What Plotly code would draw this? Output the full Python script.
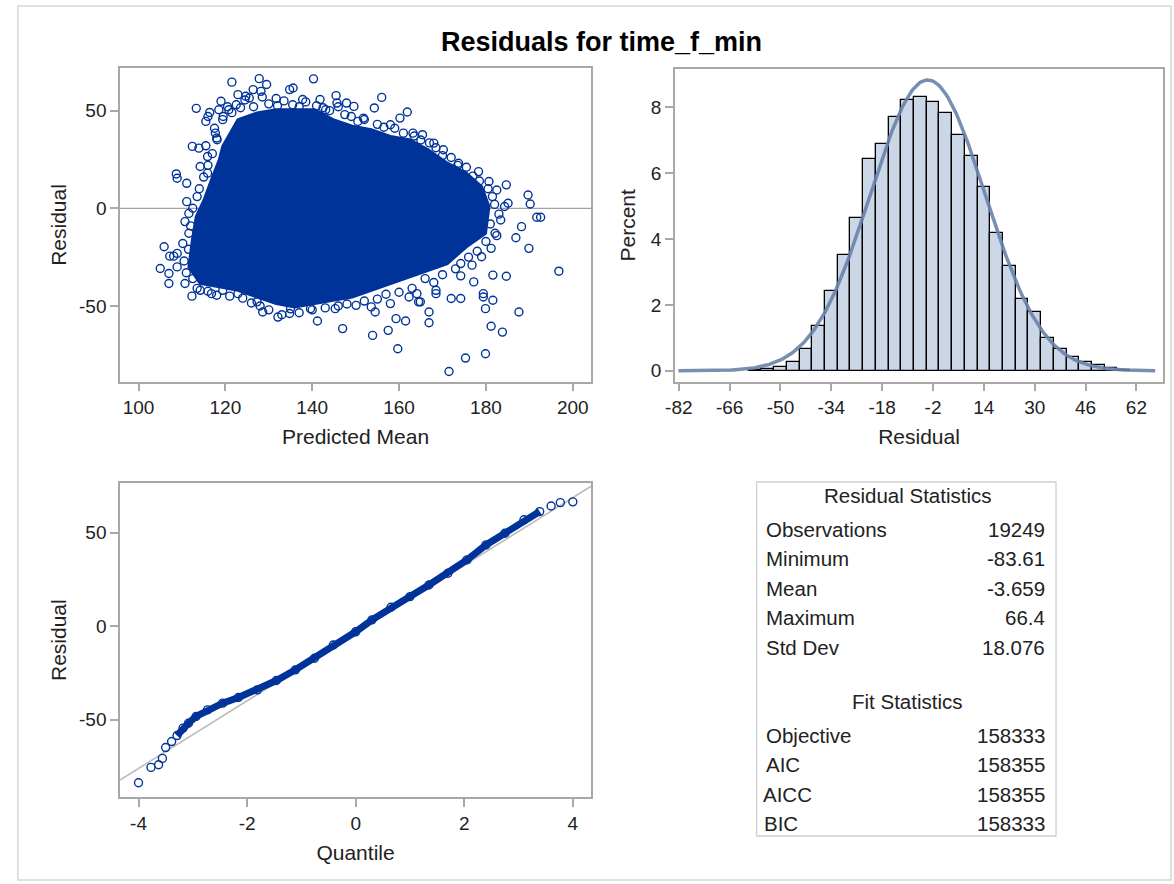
import numpy as np
import plotly.graph_objects as go

W, H = 1174, 884

# ---------------- data ----------------
# Scatter (Predicted Mean vs Residual): outline of the dense point cloud
CORE_X = [118.6, 119.4, 122.9, 127.3, 131.7, 136.0, 140.5, 144.8, 149.2, 153.6, 158.0, 162.3,
          166.7, 171.1, 175.5, 179.0, 180.7, 179.9, 175.5, 171.1, 166.7, 162.3, 158.0, 153.6,
          149.2, 144.8, 140.5, 136.0, 131.7, 127.3, 122.9, 118.6, 114.2, 111.6, 112.4, 113.3,
          115.1, 116.8]
CORE_Y = [24.8, 31.7, 45.4, 48.8, 50.5, 50.5, 50.5, 45.4, 42.0, 40.2, 36.8, 35.1,
          30.0, 23.1, 18.0, 11.1, 0.9, -12.8, -19.7, -28.3, -31.7, -35.1, -38.5, -42.0,
          -45.4, -47.1, -48.8, -50.5, -48.8, -45.4, -42.0, -40.2, -38.5, -30.0, -16.3, -4.3,
          4.3, 14.6]
# individual points around the cloud
PTS_X = [121.5, 127.8, 129.5, 140.3, 134.8, 135.6, 126.4, 122.9, 145.5, 156.0, 131.7, 141.8,
         147.9, 154.3, 161.9, 160.2, 113.3, 116.4, 119.0, 115.5, 117.7, 112.4, 113.9, 108.7,
         108.9, 111.1, 111.1, 110.7, 105.9, 107.2, 108.1, 105.0, 107.0, 107.0, 108.9, 112.3,
         184.7, 189.7, 190.2, 191.7, 192.6, 188.2, 186.9, 189.9, 196.8, 184.7, 181.6, 174.2,
         177.2, 179.4, 179.4, 181.6, 172.0, 174.2, 179.9, 187.6, 166.9, 166.9, 161.5, 159.3,
         181.2, 183.8, 157.5, 153.9, 147.0, 141.2, 159.7, 175.3, 179.9, 171.5, 154.5, 153.6,
         150.1, 145.3, 132.1, 134.8, 128.6, 127.3, 139.6, 164.5, 164.9, 164.1, 168.5, 168.5,
         158.0, 162.3, 174.2, 176.8, 179.0, 181.2, 182.1, 183.4, 184.3, 185.1, 182.5, 180.7,
         178.3, 173.7, 170.2, 168.0, 165.4, 163.2, 158.0, 151.8, 149.6, 145.7, 143.1, 137.8,
         128.2, 124.7, 120.8, 119.4, 118.1, 115.9, 114.2, 115.9, 111.6, 111.6, 110.2, 108.9,
         110.7, 114.2, 116.8, 119.4, 122.9,
         118.5, 119.5, 120.5, 121.5, 122.5, 123.5, 124.5, 125.5, 126.5, 128.5, 130.0, 132.0,
         133.5, 135.5, 137.0, 138.5, 141.0, 142.5, 144.0, 146.0, 147.5, 149.0, 150.5, 152.0,
         155.0, 156.5, 159.0, 161.0, 163.5, 165.0, 167.0, 168.5, 170.0, 172.0, 173.5, 175.5,
         177.0, 178.5, 180.5, 181.5, 182.0, 183.0, 181.0, 182.5, 180.0, 178.0, 176.0, 173.0,
         170.0, 168.0, 166.0, 163.0, 160.0, 157.0, 155.0, 152.0, 148.0, 146.0, 143.0, 140.0,
         137.0, 135.0, 133.0, 130.0, 128.0, 126.0, 124.0, 121.0, 118.0, 116.0, 113.5, 112.5,
         111.0, 110.5, 111.5, 112.0, 112.5, 113.5, 114.0, 115.0, 116.0, 117.0, 115.5, 118.0,
         117.5, 116.0]
PTS_Y = [64.6, 66.4, 63.4, 66.3, 60.8, 61.6, 60.8, 58.2, 57.7, 56.8, 56.2, 55.7,
         53.9, 51.4, 49.3, 46.2, 51.2, 49.1, 54.8, 44.5, 38.5, 31.7, 30.8, 17.6,
         15.4, 12.8, 3.4, -6.8, -19.7, -24.5, -24.5, -30.8, -33.4, -38.5, -30.0, -45.0,
         12.0, 6.8, 2.2, -4.6, -4.6, -9.4, -15.1, -20.5, -32.2, -34.8, -34.2, -34.6,
         -37.7, -43.7, -45.4, -47.1, -46.2, -46.2, -51.4, -53.1, -53.1, -58.6, -57.7, -56.5,
         -60.4, -63.4, -62.5, -65.1, -61.6, -57.7, -71.9, -76.7, -74.5, -83.6, -53.1, -50.5,
         -49.7, -51.4, -55.7, -53.9, -53.1, -47.9, -51.4, -47.9, -47.9, -43.7, -43.7, -42.0,
         -48.8, -45.4, -28.3, -29.1, -24.8, -20.5, -12.8, -6.0, 0.9, 2.6, 9.4, 13.7,
         18.8, 23.1, 30.0, 33.4, 37.7, 38.5, 42.8, 46.2, 52.2, 53.9, 50.5, 55.7,
         59.9, 57.4, 50.5, 45.4, 35.1, 26.5, 21.4, 18.0, -2.6, -12.8, -18.0, -23.1,
         -38.5, -42.0, -43.7, -42.0, -43.7,
         50.5, 47.0, 52.0, 49.0, 53.0, 51.5, 55.5, 56.5, 52.0, 57.0, 53.5, 52.5,
         55.0, 53.0, 52.0, 54.5, 52.5, 51.5, 50.0, 52.0, 48.0, 47.0, 44.5, 45.5,
         43.0, 41.5, 41.0, 38.5, 37.0, 35.0, 33.5, 31.0, 27.0, 26.0, 22.0, 21.0,
         16.5, 14.0, 10.0, 6.0, 2.0, -3.0, -8.0, -14.0, -17.0, -22.0, -25.0, -31.0,
         -34.0, -38.0, -36.0, -41.0, -43.0, -44.0, -46.5, -47.5, -49.0, -50.0, -51.0, -52.0,
         -53.5, -51.5, -54.5, -52.0, -50.0, -48.5, -46.0, -45.0, -44.5, -42.5, -41.0, -36.0,
         -33.0, -27.0, -21.0, -9.0, 0.0, 6.0, 10.0, 16.0, 22.0, 28.0, 32.0, 36.0,
         41.0, 47.0]

# Histogram of residuals (bin width 4)
BIN_CENTERS = [-58, -54, -50, -46, -42, -38, -34, -30, -26, -22, -18, -14, -10, -6, -2,
               2, 6, 10, 14, 18, 22, 26, 30, 34, 38, 42, 46, 50, 54, 58]
BIN_PCT = [0.02, 0.05, 0.12, 0.27, 0.66, 1.35, 2.41, 3.52, 4.64, 6.43, 6.87, 7.70, 8.22, 8.32, 8.16,
           7.83, 7.15, 6.53, 5.59, 4.19, 3.18, 2.19, 1.79, 1.01, 0.67, 0.41, 0.27, 0.17, 0.08, 0.04]
BIN_WIDTH = 4

# Q-Q plot
QQ_Q = [-4.00, -3.77, -3.63, -3.56, -3.50, -3.39, -3.29, -3.18, -3.08, -2.94, -2.73, -2.45,
        -2.16, -1.81, -1.46, -1.11, -0.76, -0.41, 0.00, 0.30, 0.65, 1.00, 1.35, 1.70,
        2.05, 2.40, 2.75, 3.10, 3.39, 3.60, 3.77, 4.00]
QQ_R = [-83.6, -75.4, -74.0, -70.6, -64.8, -61.6, -58.4, -54.4, -51.8, -48.2, -44.7, -41.1,
        -38.1, -34.0, -29.0, -23.3, -17.1, -10.0, -3.0, 3.4, 10.1, 15.8, 22.0, 28.3,
        35.4, 43.4, 49.6, 56.8, 61.2, 64.2, 66.0, 66.4]

# Statistics table
RES_LABELS = ["Observations", "Minimum", "Mean", "Maximum", "Std Dev"]
RES_VALUES = ["19249", "-83.61", "-3.659", "66.4", "18.076"]
FIT_LABELS = ["Objective", "AIC", "AICC", "BIC"]
FIT_VALUES = ["158333", "158355", "158355", "158333"]
MEAN, STD = -3.659, 18.076
RES_MIN, RES_MAX = -83.61, 66.4

# tick values
SC_XT = [100, 120, 140, 160, 180, 200]
RES_YT = [-50, 0, 50]
HX_T = list(range(-82, 63, 16))
HY_T = [0, 2, 4, 6, 8]
QX_T = [-4, -2, 0, 2, 4]

# ---------------- styling ----------------
FONT = "Liberation Sans, Arial, sans-serif"
BLUE = "#003399"
AXC = "#A8A8A8"
TXT = "#222222"


def fx(p):
    return p / W


def fy(p):
    return 1 - p / H


fig = go.Figure()

# Scatter panel
fig.add_trace(go.Scatter(x=CORE_X + [CORE_X[0]], y=CORE_Y + [CORE_Y[0]], mode="lines",
                         fill="toself", fillcolor=BLUE, line=dict(color=BLUE, width=3),
                         xaxis="x", yaxis="y", hoverinfo="skip", showlegend=False))
fig.add_trace(go.Scatter(x=PTS_X, y=PTS_Y, mode="markers",
                         marker=dict(symbol="circle-open", size=8, color=BLUE, line=dict(width=1.4)),
                         xaxis="x", yaxis="y", showlegend=False))

# Histogram panel
fig.add_trace(go.Bar(x=BIN_CENTERS, y=BIN_PCT, width=BIN_WIDTH,
                     marker=dict(color="#CBD6E7", line=dict(color="#000000", width=1.3)),
                     xaxis="x2", yaxis="y2", showlegend=False))
cx = np.linspace(RES_MIN + 1.5, RES_MAX + 1.5, 300)
cy = 100 * BIN_WIDTH * np.exp(-0.5 * ((cx - MEAN) / STD) ** 2) / (STD * np.sqrt(2 * np.pi))
fig.add_trace(go.Scatter(x=cx, y=cy, mode="lines", line=dict(color="#6A83AA", width=3.5),
                         opacity=0.9, xaxis="x2", yaxis="y2", hoverinfo="skip", showlegend=False))

# QQ panel
QQ_XR = [-4.34, 4.335]
fig.add_trace(go.Scatter(x=QQ_XR, y=[MEAN + STD * q for q in QQ_XR], mode="lines",
                         line=dict(color="#BDBDBD", width=1.6), xaxis="x3", yaxis="y3",
                         hoverinfo="skip", showlegend=False))
fig.add_trace(go.Scatter(x=QQ_Q, y=QQ_R, mode="markers",
                         marker=dict(symbol="circle-open", size=8, color=BLUE, line=dict(width=1.4)),
                         xaxis="x3", yaxis="y3", showlegend=False))
band = [(q, r) for q, r in zip(QQ_Q, QQ_R) if -3.3 <= q <= 3.45]
fig.add_trace(go.Scatter(x=[b[0] for b in band], y=[b[1] for b in band], mode="lines",
                         line=dict(color=BLUE, width=7), xaxis="x3", yaxis="y3",
                         hoverinfo="skip", showlegend=False))

axis_common = dict(showline=True, mirror=True, linecolor=AXC, linewidth=1.5,
                   ticks="outside", ticklen=8, tickwidth=1.5, tickcolor=AXC,
                   showgrid=False, zeroline=False,
                   tickfont=dict(family=FONT, size=19, color=TXT))
title_font = dict(family=FONT, size=21, color=TXT)


def tt(vals):
    return [str(v) for v in vals]


fig.update_layout(
    width=W, height=H, margin=dict(l=0, r=0, t=0, b=0),
    paper_bgcolor="white", plot_bgcolor="white", bargap=0,
    xaxis=dict(axis_common, domain=[fx(111), fx(586)], range=[95.75, 204.2],
               tickvals=SC_XT, ticktext=tt(SC_XT),
               title=dict(text="Predicted Mean", font=title_font, standoff=12), anchor="y"),
    yaxis=dict(axis_common, domain=[fy(381.7), fy(68.3)], range=[-88.8, 71.7],
               tickvals=RES_YT, ticktext=tt(RES_YT),
               title=dict(text="Residual", font=title_font, standoff=7), anchor="x"),
    xaxis2=dict(axis_common, domain=[fx(670.7), fx(1163)], range=[-83.2, 70.4],
                tickvals=HX_T, ticktext=tt(HX_T),
                title=dict(text="Residual", font=title_font, standoff=12), anchor="y2"),
    yaxis2=dict(axis_common, domain=[fy(381.7), fy(69)], range=[-0.33, 9.16],
                tickvals=HY_T, ticktext=tt(HY_T),
                title=dict(text="Percent", font=title_font, standoff=10), anchor="x2"),
    xaxis3=dict(axis_common, domain=[fx(111), fx(586)], range=QQ_XR,
                tickvals=QX_T, ticktext=tt(QX_T),
                title=dict(text="Quantile", font=title_font, standoff=13), anchor="y3"),
    yaxis3=dict(axis_common, domain=[fy(797), fy(483.3)], range=[-91.2, 76.3],
                tickvals=RES_YT, ticktext=tt(RES_YT),
                title=dict(text="Residual", font=title_font, standoff=7), anchor="x3"),
)

shapes = [
    # outer border
    dict(type="rect", xref="paper", yref="paper", x0=fx(8), x1=fx(1171), y0=fy(880), y1=fy(6),
         line=dict(color="#D6D6D6", width=1.5), fillcolor="rgba(0,0,0,0)", layer="below"),
    # zero reference line in scatter
    dict(type="line", xref="x domain", yref="y", x0=0, x1=1, y0=0, y1=0,
         line=dict(color="#A0A0A0", width=1.3), layer="below"),
    # stats table border
    dict(type="rect", xref="paper", yref="paper", x0=fx(753), x1=fx(1055), y0=fy(836), y1=fy(482),
         line=dict(color="#D0D0D0", width=1.3), fillcolor="rgba(0,0,0,0)"),
]

ann = [dict(text="<b>Residuals for time_f_min</b>", xref="paper", yref="paper",
            x=fx(597), y=fy(42), xanchor="center", yanchor="middle", showarrow=False,
            font=dict(family=FONT, size=27, color="#000000"))]

tfont = dict(family=FONT, size=20.5, color=TXT)
ann.append(dict(text="Residual Statistics", xref="paper", yref="paper", x=fx(905), y=fy(495),
                xanchor="center", yanchor="middle", showarrow=False, font=tfont))
row_y = [529, 558, 588, 617, 647]
for lab, val, yy in zip(RES_LABELS, RES_VALUES, row_y):
    ann.append(dict(text=lab, xref="paper", yref="paper", x=fx(760), y=fy(yy), xanchor="left",
                    yanchor="middle", showarrow=False, font=tfont))
    ann.append(dict(text=val, xref="paper", yref="paper", x=fx(1046), y=fy(yy), xanchor="right",
                    yanchor="middle", showarrow=False, font=tfont))
ann.append(dict(text="Fit Statistics", xref="paper", yref="paper", x=fx(905), y=fy(701),
                xanchor="center", yanchor="middle", showarrow=False, font=tfont))
fit_y = [735, 764, 794, 823]
fit_x = [760, 760, 757, 758]
for lab, val, yy, xx in zip(FIT_LABELS, FIT_VALUES, fit_y, fit_x):
    ann.append(dict(text=lab, xref="paper", yref="paper", x=fx(xx), y=fy(yy), xanchor="left",
                    yanchor="middle", showarrow=False, font=tfont))
    ann.append(dict(text=val, xref="paper", yref="paper", x=fx(1046), y=fy(yy), xanchor="right",
                    yanchor="middle", showarrow=False, font=tfont))

fig.update_layout(shapes=shapes, annotations=ann)
fig.write_html("out.html", config={"displayModeBar": False},
               post_script="document.body.style.margin='0';document.body.style.overflow='hidden';")
